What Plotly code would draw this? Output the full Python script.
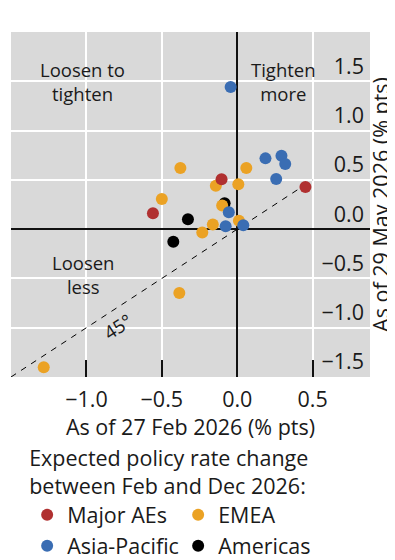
import plotly.graph_objects as go

# ---- data ----
major_x = [-0.104, -0.559, 0.452]
major_y = [0.505, 0.162, 0.428]

emea_x = [-0.377, 0.060, -0.142, 0.007, -0.500, -0.100, -0.162, -0.232, 0.011, -0.384, -1.283]
emea_y = [0.620, 0.620, 0.440, 0.455, 0.306, 0.240, 0.047, -0.034, 0.084, -0.647, -1.400]

asia_x = [-0.044, 0.187, 0.293, 0.318, 0.258, -0.056, -0.077, 0.040]
asia_y = [1.442, 0.718, 0.744, 0.660, 0.509, 0.172, 0.030, 0.040]

amer_x = [-0.327, -0.084, -0.424]
amer_y = [0.100, 0.263, -0.128]

diag = [-1.5, 0.5]

x_ticks = [-1.0, -0.5, 0.0, 0.5]
x_tick_labels = ["\u22121.0", "\u22120.5", "0.0", "0.5"]
y_ticks = [-1.5, -1.0, -0.5, 0.0, 0.5, 1.0, 1.5]
y_tick_labels = ["\u22121.5", "\u22121.0", "\u22120.5", "0.0", "0.5", "1.0", "1.5"]

RED = "#b03030"
ORANGE = "#eba224"
BLUE = "#3a6db3"
BLACK = "#000000"
FONT = "Open Sans"
TXT = "#1a1a1a"
FS = 21.5

fig = go.Figure()

fig.add_trace(go.Scatter(x=diag, y=diag, mode="lines",
                         line=dict(color="black", width=1, dash="6px,6px"),
                         showlegend=False, hoverinfo="skip"))

fig.add_trace(go.Scatter(x=amer_x, y=amer_y, mode="markers", name="Americas",
                         marker=dict(color=BLACK, size=12), legendrank=4))
fig.add_trace(go.Scatter(x=emea_x, y=emea_y, mode="markers", name="EMEA",
                         marker=dict(color=ORANGE, size=12), legendrank=2))
fig.add_trace(go.Scatter(x=major_x, y=major_y, mode="markers", name="Major AEs",
                         marker=dict(color=RED, size=12), legendrank=1))
fig.add_trace(go.Scatter(x=asia_x, y=asia_y, mode="markers", name="Asia-Pacific",
                         marker=dict(color=BLUE, size=12), legendrank=3))

fig.update_xaxes(range=[-1.5, 0.88], tickvals=x_ticks, ticktext=x_tick_labels,
                 showgrid=True, gridcolor="white", gridwidth=1.5,
                 zeroline=True, zerolinecolor="#111111", zerolinewidth=2,
                 ticks="inside", ticklen=17, tickwidth=2, tickcolor="#111111",
                 showline=False, ticklabelstandoff=7,
                 tickfont=dict(family=FONT, size=FS, color=TXT),
                 title=dict(text="As of 27 Feb 2026 (% pts)", standoff=3,
                            font=dict(family=FONT, size=FS, color=TXT)))

fig.update_yaxes(range=[-1.5, 2.0], tickvals=y_ticks, ticktext=y_tick_labels,
                 side="right", ticklabelposition="inside top", ticklabelstandoff=3,
                 showgrid=True, gridcolor="white", gridwidth=1.5,
                 zeroline=True, zerolinecolor="#111111", zerolinewidth=1.5,
                 ticks="", showline=False,
                 tickfont=dict(family=FONT, size=FS, color=TXT),
                 title=dict(text="As of 29 May 2026 (% pts)", standoff=10,
                            font=dict(family=FONT, size=FS, color=TXT)))

def note(text, x, y, size=18.5, angle=0):
    fig.add_annotation(text=text, x=x, y=y, xref="x", yref="y", showarrow=False,
                       textangle=angle, font=dict(family=FONT, size=size, color=TXT))

note("Loosen to<br>tighten", -1.025, 1.494)
note("Tighten<br>more", 0.307, 1.494)
note("Loosen<br>less", -1.025, -0.462)
note("45\u00b0", -0.797, -0.985, angle=-33)

fig.update_layout(
    width=395, height=560,
    margin=dict(l=3, r=33, t=24, b=191, autoexpand=False),
    plot_bgcolor="#d9d9d9", paper_bgcolor="white",
    font=dict(family=FONT, size=FS, color=TXT),
    showlegend=True,
    legend=dict(orientation="h", x=0.045, xanchor="left", y=-0.178, yanchor="top",
                title=dict(text="Expected policy rate change<br>between Feb and Dec 2026:",
                           side="top", font=dict(family=FONT, size=FS, color=TXT)),
                font=dict(family=FONT, size=FS, color=TXT),
                entrywidth=106, bgcolor="rgba(0,0,0,0)", itemsizing="constant"),
)

fig.write_html("out.html")
